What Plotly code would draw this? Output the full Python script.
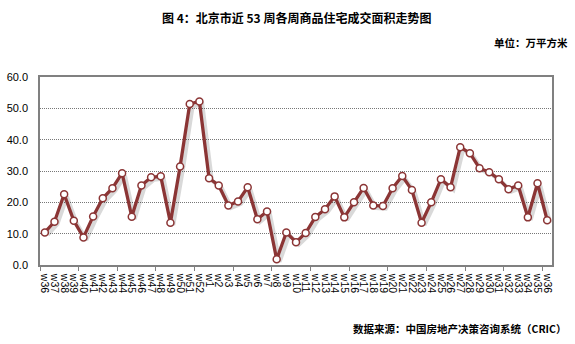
import plotly.graph_objects as go

# Week labels: w36-w52 of the previous year, then w1-w36
weeks = [f"w{i}" for i in range(36, 53)] + [f"w{i}" for i in range(1, 37)]

# Weekly transaction area of commercial housing (10k m²)
area = [
    10.4, 13.8, 22.6, 14.1, 8.8, 15.5, 21.3, 24.5, 29.3, 15.4,
    25.4, 28.0, 28.3, 13.5, 31.4, 51.4, 52.2,
    27.7, 25.4, 19.0, 20.3, 24.8, 14.6, 17.1, 1.8, 10.4, 7.3,
    10.2, 15.3, 17.8, 21.9, 15.2, 20.0, 24.6, 19.0, 18.8, 24.5,
    28.4, 23.9, 13.5, 20.0, 27.4, 24.8, 37.6, 35.7, 30.9, 29.6,
    27.4, 24.2, 25.4, 15.2, 26.1, 14.3,
]

y_ticks = [0, 10, 20, 30, 40, 50, 60]
y_labels = [f"{v:.1f}" for v in y_ticks]

x = list(range(len(weeks)))
line_color = "#8b3535"
cjk = "Noto Sans CJK SC"

fig = go.Figure()

# soft drop shadow beneath the line
fig.add_trace(go.Scatter(
    x=[v + 0.3 for v in x], y=[v - 0.8 for v in area],
    mode="lines", line=dict(color="rgba(0,0,0,0.15)", width=4),
    hoverinfo="skip", showlegend=False,
))

fig.add_trace(go.Scatter(
    x=x, y=area, mode="lines+markers",
    line=dict(color=line_color, width=3.3),
    marker=dict(symbol="circle", size=7, color="white",
                line=dict(color=line_color, width=1.5)),
    showlegend=False,
))

fig.update_layout(
    width=575, height=344,
    margin=dict(l=40, r=23, t=77, b=79),
    paper_bgcolor="white", plot_bgcolor="white",
    font=dict(family="Liberation Sans, Arial", color="#000000"),
    xaxis=dict(
        range=[-0.5, len(weeks) - 0.5],
        tickmode="array", tickvals=x, ticktext=weeks,
        tickangle=90, ticks="", tickfont=dict(size=10.5),
        ticklabelstandoff=5, automargin=False,
        showgrid=False, zeroline=False,
        showline=True, linecolor="#808080", linewidth=1.5, mirror=True,
        minor=dict(tickmode="linear", tick0=-0.5, dtick=4,
                   ticks="outside", ticklen=4, tickcolor="#808080",
                   tickwidth=1, showgrid=False),
        fixedrange=True,
    ),
    yaxis=dict(
        range=[0, 60],
        tickmode="array", tickvals=y_ticks, ticktext=y_labels,
        tickfont=dict(size=11), ticks="",
        ticklabelstandoff=8, automargin=False,
        showgrid=True, gridcolor="#777777", griddash="1px,1px", gridwidth=1,
        zeroline=False,
        showline=True, linecolor="#808080", linewidth=1.5, mirror=True,
        fixedrange=True,
    ),
)

fig.add_annotation(
    text="<b>图 4：北京市近 53 周各周商品住宅成交面积走势图</b>",
    xref="paper", yref="paper", x=0.5, y=1, yshift=60,
    xanchor="center", yanchor="middle", showarrow=False,
    font=dict(family=cjk, size=12, color="#000000"),
)
fig.add_annotation(
    text="<b>单位：万平方米</b>",
    xref="paper", yref="paper", x=1, xshift=18, y=1, yshift=35,
    xanchor="right", yanchor="middle", showarrow=False,
    font=dict(family=cjk, size=10.5, color="#000000"),
)
fig.add_annotation(
    text="<b>数据来源：中国房地产决策咨询系统（CRIC）</b>",
    xref="paper", yref="paper", x=1, xshift=16, y=0, yshift=-63,
    xanchor="right", yanchor="middle", showarrow=False,
    font=dict(family=cjk, size=10.5, color="#000000"),
)

fig.write_html("out.html")
